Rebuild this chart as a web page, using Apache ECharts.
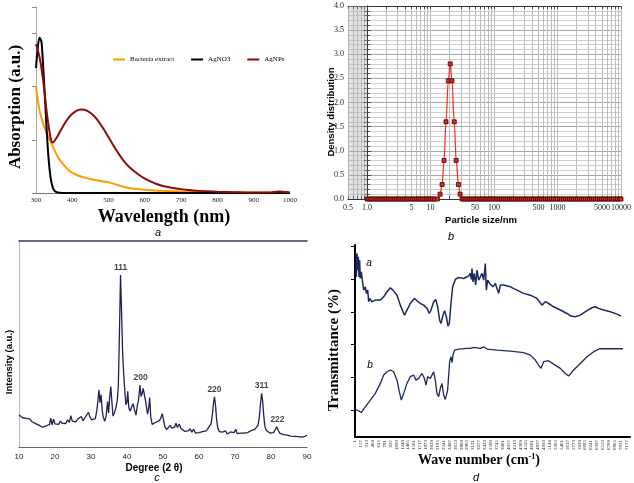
<!DOCTYPE html>
<html><head><meta charset="utf-8">
<script src="https://cdn.jsdelivr.net/npm/echarts@6/dist/echarts.min.js"></script>
<style>html,body{margin:0;padding:0;background:#fff}#c{width:634px;height:483px}</style>
</head><body><div id="c"></div>
<script>
// ---------- Panel a : UV-Vis ----------
const bacteriaWl  = [300,305,310,320,330,340,350,360,370,380,390,400,420,440,460,480,500,520,540,560,600,650,700,800,900,1000];
const bacteriaAbs = [2.0,1.75,1.55,1.3,1.12,0.97,0.82,0.68,0.58,0.5,0.43,0.38,0.32,0.28,0.25,0.22,0.2,0.16,0.12,0.09,0.06,0.04,0.025,0.015,0.01,0.005];
const agno3Wl  = [300,305,310,315,320,325,330,335,340,345,350,355,360,380,400,500,600,700,800,900,1000];
const agno3Abs = [2.35,2.75,2.92,2.85,2.35,1.75,1.12,0.62,0.3,0.13,0.05,0.02,0.01,0,0,0,0,0,0,0,0];
const agnpsWl  = [300,310,320,330,340,346,355,370,390,410,425,440,460,480,500,520,540,560,580,600,625,650,700,750,800,850,900,940,970,985,1000];
const agnpsAbs = [2.8,2.55,2.1,1.5,1.05,0.95,1.02,1.2,1.42,1.54,1.57,1.55,1.45,1.27,1.05,0.82,0.62,0.47,0.36,0.27,0.19,0.13,0.07,0.04,0.025,0.015,0.01,0.01,0.03,0.02,0.01];
const uvNames = ['Bacteria extract','AgNO3','AgNPs'];

// ---------- Panel b : particle size distribution ----------
const psdSize = [
 1.0,1.07,1.15,1.24,1.33,1.43,1.54,1.65,1.78,1.91,
 2.05,2.2,2.37,2.55,2.74,2.94,3.16,3.4,3.65,3.93,
 4.22,4.54,4.88,5.24,5.64,6.06,6.51,7.0,7.53,8.09,
 8.7,9.35,10.05,10.8,11.6,
 12.8,14.1,15.2,16.3,17.5,19.0,20.4,21.7,23.6,25.3,27.5,29.2,31.3,
 33.6,36.1,38.8,41.7,44.8,48.2,51.8,55.7,59.9,64.4,
 69.2,74.4,80,86,92.4,99.4,107,115,123,132,
 142,153,164,177,190,204,219,236,253,272,
 293,315,338,364,391,420,452,486,522,561,
 603,648,697,749,805,866,931,1000,1075,1156,
 1243,1336,1436,1544,1660,1784,1918,2062,2217,2383,
 2562,2754,2960,3183,3421,3678,3954,4250,4569,4912,
 5280,5676,6102,6560,7052,7581,8149,8760,9417,10000];
const psdDensity = [
 0,0,0,0,0,0,0,0,0,0,
 0,0,0,0,0,0,0,0,0,0,
 0,0,0,0,0,0,0,0,0,0,
 0,0,0,0,0,
 0,0.1,0.3,0.8,1.6,2.45,2.8,2.45,1.6,0.8,0.3,0.1,0,
 0,0,0,0,0,0,0,0,0,0,
 0,0,0,0,0,0,0,0,0,0,
 0,0,0,0,0,0,0,0,0,0,
 0,0,0,0,0,0,0,0,0,0,
 0,0,0,0,0,0,0,0,0,0,
 0,0,0,0,0,0,0,0,0,0,
 0,0,0,0,0,0,0,0,0,0,
 0,0,0,0,0,0,0,0,0,0];
const psdTickLabels = ['0.5','1.0','5','10','50','100','500','1000','5000','10000'];
const psdGridNm = [0.5,0.6,0.7,0.8,0.9,1,2,3,4,5,6,7,8,9,10,20,30,40,50,60,70,80,90,
 100,200,300,400,500,600,700,800,900,1000,2000,3000,4000,5000,6000,7000,8000,9000,10000];

// ---------- Panel c : XRD ----------
const xrdAngle = [10,10.5,11,11.5,12,12.5,13,13.5,14,14.5,15,15.5,16,16.5,17,17.5,18,18.5,18.8,19.2,19.6,20,20.5,21,21.5,22,22.5,23,23.5,24,24.4,24.8,25.3,25.8,26.3,26.8,27.3,27.8,28.3,28.8,29.3,29.7,30.2,30.7,31.2,31.6,31.9,32.2,32.5,32.8,33.1,33.4,33.8,34.2,34.6,34.9,35.2,35.5,35.8,36.1,36.5,36.9,37.3,37.6,37.9,38.2,38.5,38.8,39.1,39.4,39.7,40.0,40.2,40.5,40.9,41.3,41.7,42.1,42.5,42.9,43.2,43.6,43.9,44.2,44.5,44.8,45.1,45.4,45.7,46.0,46.3,46.6,47.0,47.5,48.0,48.5,49.0,49.4,49.8,50.2,50.6,51.0,51.5,52.0,52.4,52.8,53.2,53.6,54.0,54.5,55.0,55.5,56.0,56.5,57.0,57.5,58.0,58.5,59.0,59.5,60.0,60.5,61.0,61.5,62.0,62.5,63.0,63.4,63.8,64.0,64.3,64.6,64.9,65.2,65.6,66.0,66.5,67.0,67.4,67.8,68.3,68.8,69.3,69.8,70.2,70.6,71.0,71.5,72.0,72.5,73.0,73.5,74.0,74.5,75.0,75.5,76.0,76.4,76.8,77.1,77.4,77.7,78.0,78.3,78.7,79.2,79.7,80.2,80.7,81.2,81.6,82.0,82.5,83.0,83.5,84.0,84.5,85.0,85.5,86.0,86.5,87.0,87.5,88.0,88.5,89.0,89.5,90.0];
const xrdIntensity = [15.5,15.0,14.2,14.8,13.9,13.0,13.6,12.4,12.8,11.5,11.8,10.6,11.2,9.6,9.3,10.2,10.5,11.0,14.0,10.8,13.5,11.2,11.8,11.0,12.6,11.5,12.2,11.4,13.2,12.0,15.2,12.6,13.4,12.2,13.6,13.0,14.8,12.8,14.2,13.4,16.8,14.6,13.2,14.0,13.8,17.5,22.0,27.7,21.5,25.5,18.0,14.5,12.5,15.0,22.0,16.5,24.5,29.3,22.0,15.0,16.5,19.0,22.5,30.0,55.0,83.5,65.0,45.0,35.0,27.0,20.5,22.0,27.0,19.0,17.5,19.5,21.0,18.0,15.5,20.5,22.5,30.1,24.5,26.0,28.5,25.5,23.0,19.5,16.0,18.5,24.0,14.5,11.0,10.5,12.0,11.3,12.8,14.0,16.2,12.5,9.5,8.5,9.0,10.5,9.2,8.8,9.6,11.6,9.5,11.2,9.0,8.6,7.6,8.4,7.8,8.8,7.2,8.6,6.8,7.4,7.0,6.9,7.5,8.2,7.8,9.0,9.5,11.5,17.0,21.0,24.4,20.0,13.0,9.5,7.5,6.8,7.2,6.5,7.8,6.3,6.8,7.3,6.6,7.0,8.6,6.5,6.9,6.7,7.4,6.8,7.2,7.0,7.5,8.0,7.8,8.6,9.2,10.5,15.0,21.5,26.0,22.0,15.0,10.0,8.0,7.2,6.8,7.5,7.0,8.5,9.8,8.0,6.6,6.2,6.0,5.4,5.8,5.0,5.3,4.8,5.2,4.7,5.0,5.4,4.8,5.5,5.2,5.8];
const peakHkl = ['111','200','220','311','222'];
const peakAngle = [38.2,43.8,64.3,77.4,81.8];
const peakHeight = [83.5,30.1,24.4,26.0,9.8];

// ---------- Panel d : FTIR ----------
const ftirIdxA = [27,36,54,71,89,107,124,142,168,195,230,274,301,336,362,389,450,538,671,759,847,935,1005,1111,1199,1270,1314,1375,1463,1569,1640,1728,1816,1904,1966,2010,2080,2133,2186,2239,2274,2327,2371,2415,2459,2494,2538,2582,2653,2741,2873,3005,3049,3076,3093,3120,3155,3190,3226,3270,3314,3358,3402,3446,3472,3507,3560,3595,3648,3710,3754,3798,3842,3930,4106,4283,4459,4635,4811,4943,5031,5119,5252,5428,5604,5710,5824,5957,6133,6265,6353,6441,6573,6749,6926,7031];
const ftirA = [95.8,81.5,95.8,85.6,93.8,81.5,91.7,80.5,84.6,79.5,73.4,75.4,71.4,73.4,66.3,68.3,66.3,67.3,67.3,69.3,72.4,74.8,73.4,70.3,64.2,60.1,58.1,61.2,65.2,68.3,66.9,65.2,64.2,62.2,59.1,61.2,66.3,67.7,63.2,55.0,53.0,58.1,60.8,57.1,51.4,53.0,65.2,75.4,79.9,81.1,80.5,82.0,83.6,79.9,86.6,78.5,83.6,76.5,85.6,79.5,81.5,83.6,79.5,89.7,73.4,79.5,77.5,78.5,75.4,77.5,74.4,71.4,76.5,76.5,75.4,73.4,71.4,70.3,68.3,64.2,66.3,65.2,63.2,61.2,59.1,57.5,57.1,58.1,60.8,62.6,63.2,62.2,61.2,60.1,58.7,57.5];
const ftirIdxB = [1,54,168,274,406,538,671,759,847,935,1023,1111,1173,1226,1287,1375,1463,1551,1613,1684,1772,1834,1878,1922,1992,2036,2080,2124,2168,2212,2256,2300,2344,2389,2450,2503,2538,2565,2591,2635,2741,2961,3049,3137,3314,3402,3428,3490,3754,4106,4459,4635,4767,4855,4917,4987,5119,5252,5428,5560,5648,5780,5957,6133,6309,6468,6661,6926,7084];
const ftirB = [0.6,0,-1.4,2.0,6.1,10.2,16.3,21.4,23.4,24.5,23.4,18.3,11.2,6.1,10.2,16.3,20.4,21.4,18.3,19.4,22.4,19.4,15.3,20.4,19.4,20.4,23.4,18.3,10.2,8.2,13.3,16.3,9.2,6.5,12.2,29.6,32.6,29.0,33.6,36.7,37.3,37.7,37.7,38.3,37.7,38.7,39.1,37.3,36.7,36.1,35.1,33.6,30.6,27.5,25.5,29.6,30.2,28.1,25.5,22.4,20.8,24.5,28.5,32.6,35.7,37.5,37.5,37.5,37.5];
const ftirTicks = [1,157,313,469,625,781,937,1093,1249,1405,1561,1717,1873,2029,2185,2341,2497,2653,2809,2965,3121,3277,3433,3589,3745,3901,4057,4213,4369,4525,4681,4837,4993,5149,5305,5461,5617,5773,5929,6085,6241,6397,6553,6709,6865,7021,7177];
const ftirYTicks = [0,20,40,60,80,100];

// ---------- build ----------
const zip = (xs, ys) => xs.map((x, i) => [x, ys[i]]);
const serif = 'Liberation Serif', sans = 'Liberation Sans';
const psdLabelVals = psdTickLabels.map(s => Math.log10(parseFloat(s)));
const psdGridVals = psdGridNm.map(v => Math.log10(v));
const psdData = psdSize.map((s, i) => [Math.log10(s), psdDensity[i]]);
const plain = v => String(Math.round(v));

const chart = echarts.init(document.getElementById('c'), null, {renderer: 'canvas'});
const txt = (text, x, y, font, rot) => ({type: 'text', x, y, rotation: rot || 0,
  style: {text, font, fill: '#000', align: 'center', verticalAlign: 'middle'}});

chart.setOption({
  animation: false,
  backgroundColor: '#fff',
  legend: {left: 108, top: 51, itemWidth: 12, itemHeight: 2, itemGap: 17, icon: 'rect',
    data: uvNames, textStyle: {fontFamily: serif, fontSize: 7, color: '#000'}},
  grid: [
    {left: 36, right: 344, top: 7, bottom: 290},
    {left: 348, right: 11, top: 6, bottom: 284},
    {left: 19, right: 327, top: 241, bottom: 36},
    {left: 355, right: 4, top: 245, bottom: 46}
  ],
  xAxis: [
    {gridIndex: 0, type: 'value', min: 300, max: 1000, interval: 100,
      axisLine: {lineStyle: {color: '#777', width: 1}}, axisTick: {show: false},
      axisLabel: {fontFamily: serif, fontSize: 7, color: '#222', margin: 4, formatter: plain}, splitLine: {show: false}},
    {gridIndex: 1, type: 'value', min: Math.log10(0.5), max: 4,
      axisLine: {onZero: false, lineStyle: {color: '#333'}},
      axisTick: {inside: true, length: 3, customValues: psdGridVals, lineStyle: {color: '#444'}},
      axisLabel: {customValues: psdLabelVals, fontFamily: serif, fontSize: 8, color: '#222', margin: 5,
        formatter: v => { const i = psdLabelVals.findIndex(x => Math.abs(x - v) < 1e-6); return i >= 0 ? psdTickLabels[i] : ''; }},
      splitLine: {show: true, lineStyle: {color: '#bdbdbd', width: 1}}},
    {gridIndex: 1, type: 'value', position: 'top', min: Math.log10(0.5), max: 4,
      axisLine: {onZero: false, lineStyle: {color: '#333'}},
      axisTick: {inside: true, length: 3, customValues: psdGridVals, lineStyle: {color: '#444'}},
      axisLabel: {show: false}, splitLine: {show: false}},
    {gridIndex: 2, type: 'value', min: 10, max: 90, interval: 10,
      axisLine: {lineStyle: {color: '#666'}}, axisTick: {show: false},
      axisLabel: {fontFamily: sans, fontSize: 8, color: '#222', margin: 6}, splitLine: {show: false}},
    {gridIndex: 2, type: 'value', position: 'top', min: 10, max: 90,
      axisLine: {lineStyle: {color: '#2d3a62', width: 1.5}}, axisTick: {show: false},
      axisLabel: {show: false}, splitLine: {show: false}},
    {gridIndex: 3, type: 'value', min: 1, max: 7270,
      axisLine: {onZero: false, lineStyle: {color: '#000', width: 2}},
      axisTick: {show: false},
      axisLabel: {customValues: ftirTicks, rotate: 90, fontFamily: serif, fontSize: 5, color: '#222', margin: 3, formatter: plain},
      splitLine: {show: false}}
  ],
  yAxis: [
    {gridIndex: 0, type: 'value', min: 0, max: 3.5, interval: 1,
      axisLine: {show: true, lineStyle: {color: '#aaa'}},
      axisTick: {show: true, length: 4, lineStyle: {color: '#888'}},
      axisLabel: {show: false}, splitLine: {show: false}},
    {gridIndex: 1, type: 'value', min: 0, max: 4, interval: 0.5,
      axisLine: {show: true, lineStyle: {color: '#333'}},
      axisTick: {inside: true, length: 4, lineStyle: {color: '#444'}},
      minorTick: {show: true, splitNumber: 5, length: 3, lineStyle: {color: '#555'}},
      axisLabel: {fontFamily: serif, fontSize: 8, color: '#222', margin: 4, formatter: v => v.toFixed(1)},
      splitLine: {show: true, lineStyle: {color: '#a8a8a8'}},
      minorSplitLine: {show: true, lineStyle: {color: '#d0d0d0'}}},
    {gridIndex: 1, type: 'value', position: 'right', min: 0, max: 4, interval: 0.5,
      axisLine: {show: true, lineStyle: {color: '#333'}},
      axisTick: {inside: true, length: 4, lineStyle: {color: '#444'}},
      minorTick: {show: true, splitNumber: 5, length: 3, lineStyle: {color: '#555'}},
      axisLabel: {show: false}, splitLine: {show: false}},
    {gridIndex: 2, type: 'value', min: 0, max: 100,
      axisLine: {show: true, lineStyle: {color: '#bbb'}}, axisTick: {show: false},
      axisLabel: {show: false}, splitLine: {show: false}},
    {gridIndex: 3, type: 'value', min: -16.5, max: 101,
      axisLine: {show: true, onZero: false, lineStyle: {color: '#000', width: 2}},
      axisTick: {show: true, length: 4, customValues: ftirYTicks, lineStyle: {color: '#000'}},
      axisLabel: {show: false}, splitLine: {show: false}}
  ],
  series: [
    {name: uvNames[0], type: 'line', xAxisIndex: 0, yAxisIndex: 0, data: zip(bacteriaWl, bacteriaAbs),
      smooth: 0.4, symbol: 'none', lineStyle: {color: '#ff9a00', width: 2}, itemStyle: {color: '#ff9a00'}},
    {name: uvNames[1], type: 'line', xAxisIndex: 0, yAxisIndex: 0, data: zip(agno3Wl, agno3Abs),
      smooth: 0.3, symbol: 'none', lineStyle: {color: '#000', width: 2}, itemStyle: {color: '#000'}},
    {name: uvNames[2], type: 'line', xAxisIndex: 0, yAxisIndex: 0, data: zip(agnpsWl, agnpsAbs),
      smooth: 0.4, symbol: 'none', lineStyle: {color: '#8e0b0b', width: 2}, itemStyle: {color: '#8e0b0b'}},
    {type: 'line', xAxisIndex: 1, yAxisIndex: 1, data: psdData, smooth: 0.35, smoothMonotone: 'x',
      symbol: 'rect', symbolSize: 4, lineStyle: {color: '#ee2b22', width: 1.2},
      itemStyle: {color: '#e5261c', borderColor: '#3a0000', borderWidth: 0.8},
      markArea: {silent: true, itemStyle: {color: 'rgba(170,170,170,0.35)'},
        data: [[{xAxis: psdLabelVals[0]}, {xAxis: psdLabelVals[1]}]]}},
    {type: 'line', xAxisIndex: 3, yAxisIndex: 3, data: zip(xrdAngle, xrdIntensity),
      symbol: 'none', lineStyle: {color: '#1c2352', width: 1.3}},
    {type: 'scatter', xAxisIndex: 3, yAxisIndex: 3,
      data: peakAngle.map((a, i) => ({value: [a, peakHeight[i]], name: peakHkl[i]})),
      symbolSize: 0, label: {show: true, position: 'top', distance: 3, formatter: p => p.name,
        fontFamily: sans, fontWeight: 'bold', fontSize: 8.5, color: '#111'}},
    {type: 'line', xAxisIndex: 5, yAxisIndex: 4, data: zip(ftirIdxA, ftirA),
      symbol: 'none', lineStyle: {color: '#1b2a5e', width: 1.5}},
    {type: 'line', xAxisIndex: 5, yAxisIndex: 4, data: zip(ftirIdxB, ftirB),
      symbol: 'none', lineStyle: {color: '#1b2a5e', width: 1.3}}
  ],
  graphic: [
    txt('Wavelength (nm)', 164, 217, 'bold 18px "Liberation Serif"'),
    txt('Absorption (a.u.)', 16, 107, 'bold 17px "Liberation Serif"', Math.PI / 2),
    txt('a', 158, 233, 'italic 11px "Liberation Sans"'),
    txt('Particle size/nm', 481, 220, 'bold 9.5px "Liberation Sans"'),
    txt('Density distribution', 331, 112, 'bold 9.5px "Liberation Sans"', Math.PI / 2),
    txt('b', 451, 237, 'italic 11px "Liberation Sans"'),
    txt('Intensity (a.u.)', 9, 362, 'bold 9.5px "Liberation Sans"', Math.PI / 2),
    txt('Degree (2 θ)', 154, 468, 'bold 10px "Liberation Sans"'),
    txt('c', 157, 478, 'italic 11px "Liberation Sans"'),
    txt('Transmittance (%)', 334, 350, 'bold 15px "Liberation Serif"', Math.PI / 2),
    {type: 'text', x: 479, y: 460, style: {rich: {n: {font: 'bold 14px "Liberation Serif"', fill: '#000'}, s: {font: 'bold 8px "Liberation Serif"', fill: '#000', verticalAlign: 'top', padding: [0, 0, 7, 0]}},
      text: '{n|Wave number (cm}{s|-1}{n|)}', align: 'center', verticalAlign: 'middle'}},
    txt('d', 476, 478, 'italic 11px "Liberation Sans"'),
    txt('a', 369, 263, 'italic 10px "Liberation Sans"'),
    txt('b', 370, 365, 'italic 10px "Liberation Sans"')
  ]
});
</script>
</body></html>
